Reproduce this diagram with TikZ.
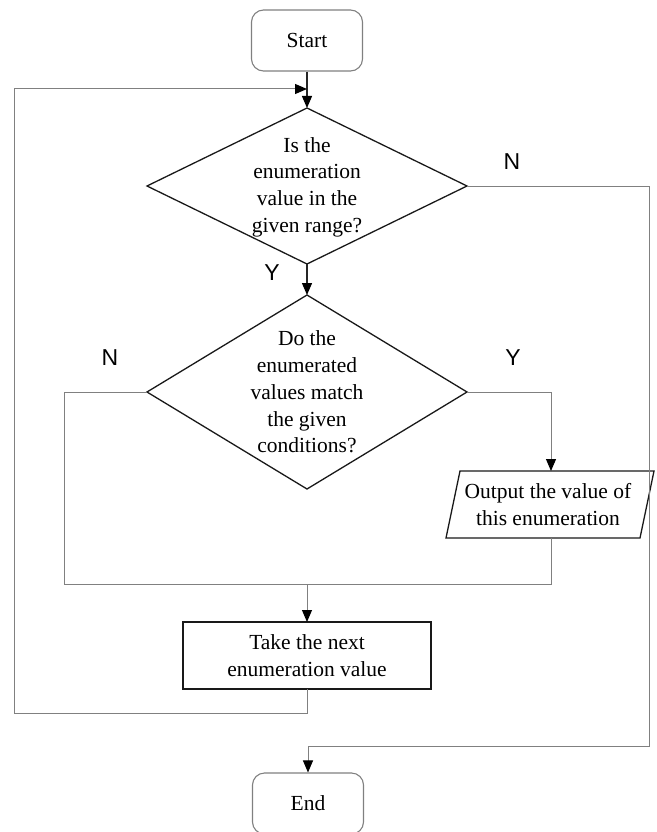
\documentclass[tikz,border=0pt]{standalone}
\usepackage{fontspec}
\setmainfont{Liberation Serif}
\newfontfamily\lblfont{Liberation Sans}
\usetikzlibrary{shapes.geometric,arrows.meta,calc}
\begin{document}
\begin{tikzpicture}[x=1pt,y=-1pt,
  txt/.style={font=\fontsize{21.5}{26.7}\selectfont, align=center, inner sep=0pt},
  termbox/.style={draw=black!50, line width=1.1pt, rounded corners=12pt, minimum width=111pt, minimum height=61pt, inner sep=0pt, font=\fontsize{21.5}{26.7}\selectfont},
  decbox/.style={diamond, draw=black!90, line width=1.3pt, inner sep=0pt, outer sep=0pt, minimum width=320pt, minimum height=156pt},
  procbox/.style={draw=black!90, line width=1.3pt, minimum width=248pt, minimum height=67pt, inner sep=0pt, outer sep=0pt, align=center, font=\fontsize{21.5}{26.7}\selectfont},
  conn/.style={draw=black!50, line width=1pt},
  darkconn/.style={draw=black!85, line width=1.3pt},
  tip/.style={-{Triangle[length=12pt,width=10pt,color=black]}},
  yn/.style={font=\lblfont\fontsize{23}{26}\selectfont, inner sep=0pt}
]
\useasboundingbox (0,0) rectangle (656,832);

% nodes
\node[termbox] (start) at (307,40.5) {Start};
\node[decbox] (d1) at (307,186) {};
\node[txt] (t1) at (307,187) {Is the\\enumeration\\value in the\\given range?};
\node[decbox, minimum height=194pt] (d2) at (307,392) {};
\node[txt] (t2) at (307,392) {Do the\\enumerated\\values match\\the given\\conditions?};
\node[inner sep=0pt, outer sep=0pt, minimum width=194pt, minimum height=67pt] (out) at (550,504.5) {};
\node[txt] (tout) at (548,504.5) {Output the value of\\this enumeration};
\node[procbox] (take) at (307,655.5) {Take the next\\enumeration value};
\node[termbox] (end) at (308,803.5) {End};

% parallelogram outline
\draw[draw=black!90, line width=1.3pt]
  ($(out.center)+(-104,33.5)$) -- ($(out.center)+(90,33.5)$) --
  ($(out.center)+(104,-33.5)$) -- ($(out.center)+(-90,-33.5)$) -- cycle;

% labels
\node[yn] (n1) at (512,162) {N};
\node[yn] (y1) at (272,273) {Y};
\node[yn] (n2) at (110,358) {N};
\node[yn] (y2) at (513,358) {Y};

% helper coordinates
\coordinate (j1) at (307,89);
\coordinate (lb1) at (307,713);
\coordinate (lb2) at (14,713);
\coordinate (lb3) at (14,89);
\coordinate (r1) at (649,186);
\coordinate (r2) at (649,746);
\coordinate (r3) at (308,746);
\coordinate (ry) at (551,392);
\coordinate (ln1) at (64,392);
\coordinate (ln2) at (64,584);
\coordinate (ln3) at (551,584);
\coordinate (mj) at (307,584);

% connectors
\draw[darkconn, tip] (start.south) -- (d1.north);
\draw[conn] (take.south) -- (lb1) -- (lb2) -- (lb3) -- ($(j1)+(-10,0)$);
\draw[darkconn, tip] ($(j1)+(-12,0)$) -- (j1);
\draw[darkconn, tip] (d1.south) -- (d2.north);
\draw[conn] (d1.east) -- (r1) -- (r2) -- (r3);
\draw[conn, tip] (r3) -- (end.north);
\draw[conn] (d2.east) -- (ry);
\draw[conn, tip] (ry) -- (out.north -| ry);
\draw[conn] (d2.west) -- (ln1) -- (ln2) -- (ln3) -- (out.south -| ln3);
\draw[conn, tip] (mj) -- (take.north);
\end{tikzpicture}
\end{document}
